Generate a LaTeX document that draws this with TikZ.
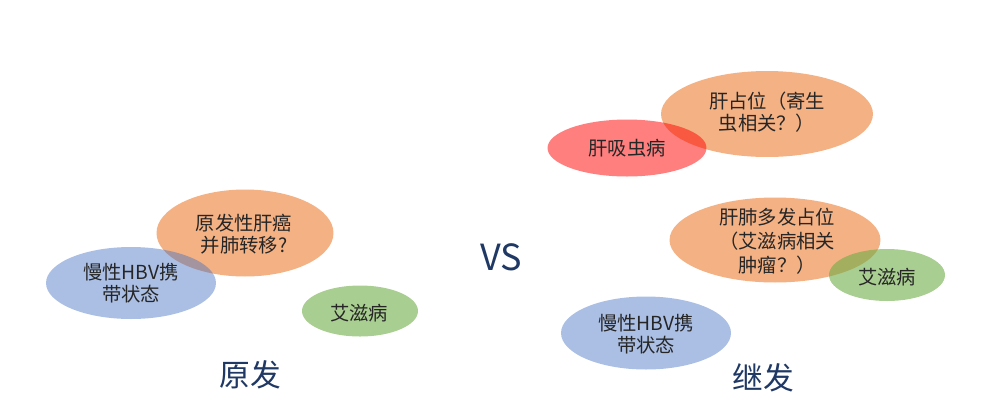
\documentclass[tikz,border=0pt]{standalone}
\usepackage{fontspec}
\setmainfont{Noto Sans CJK SC}
\usepackage{tikz}
\usetikzlibrary{shapes.geometric}
\usepackage{xcolor}
\definecolor{blobblue}{RGB}{68,114,196}
\definecolor{bloborange}{RGB}{237,125,49}
\definecolor{blobgreen}{RGB}{112,173,71}
\definecolor{blobred}{RGB}{255,0,0}
\definecolor{headnavy}{RGB}{31,56,100}

\begin{document}
\begin{tikzpicture}[x=0.02cm,y=-0.02cm,
  blob/.style={ellipse,inner sep=0pt,fill opacity=0.6},
  blobtext/.style={align=center,text=black!85,font=\fontsize{11pt}{12.6pt}\selectfont},
  headline/.style={text=headnavy,font=\fontsize{17.5pt}{20pt}\selectfont}]
  \useasboundingbox (0,0) rectangle (987,417);
  % primary
  \node[blob,fill=bloborange,minimum width=3.54cm,minimum height=1.74cm] (pri-hcc) at (245,233) {};
  \node[blob,fill=blobblue,fill opacity=0.45,minimum width=3.40cm,minimum height=1.44cm] (pri-hbv) at (131,283) {};
  \node[blob,fill=blobgreen,minimum width=2.32cm,minimum height=1.02cm] (pri-aids) at (360,311) {};
  \node[blobtext] (pri-hcc-t) at (244,234) {原发性肝癌\\并肺转移?};
  \node[blobtext] (pri-hbv-t) at (131,283) {慢性HBV携\\带状态};
  \node[blobtext] (pri-aids-t) at (359,313) {艾滋病};
  \node[headline] (pri-head) at (250,375) {原发};
  % vs
  \node[text=headnavy,font=\fontsize{20.5pt}{24pt}\selectfont] (vs) at (501,257) {VS};
  % secondary
  \node[blob,fill=bloborange,minimum width=4.24cm,minimum height=1.72cm] (sec-liver) at (767,114) {};
  \node[blob,fill=blobred,fill opacity=0.5,minimum width=3.18cm,minimum height=1.14cm] (sec-fluke) at (627,148) {};
  \node[blob,fill=bloborange,minimum width=4.22cm,minimum height=1.70cm] (sec-multi) at (775,240) {};
  \node[blob,fill=blobgreen,minimum width=2.32cm,minimum height=1.04cm] (sec-aids) at (887,275) {};
  \node[blob,fill=blobblue,fill opacity=0.45,minimum width=3.40cm,minimum height=1.46cm] (sec-hbv) at (646,333) {};
  \node[blobtext] (sec-liver-t) at (767,112) {肝占位（寄生\\虫相关？）};
  \node[blobtext] (sec-fluke-t) at (627,148) {肝吸虫病};
  \node[blobtext,font=\fontsize{11pt}{13.6pt}\selectfont] (sec-multi-t) at (777,241) {肝肺多发占位\\（艾滋病相关\\肿瘤？）};
  \node[blobtext] (sec-aids-t) at (887,277) {艾滋病};
  \node[blobtext] (sec-hbv-t) at (646,334) {慢性HBV携\\带状态};
  \node[headline] (sec-head) at (763,378) {继发};
\end{tikzpicture}
\end{document}
